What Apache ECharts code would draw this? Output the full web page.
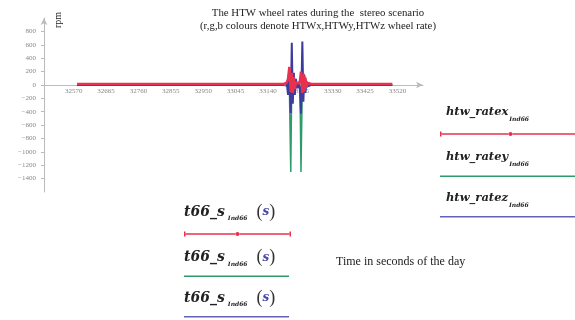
<!DOCTYPE html>
<html>
<head>
<meta charset="utf-8">
<script src="https://cdn.jsdelivr.net/npm/echarts@6/dist/echarts.min.js"></script>
<style>
  html, body { margin: 0; padding: 0; background: #fff; }
  #chart { width: 575px; height: 320px; }
</style>
</head>
<body>
<div id="chart"></div>
<script>
// seconds of the day
const times = [32580, 32700, 32850, 33000, 33100, 33185, 33195, 33199, 33203, 33207,
  33210, 33213, 33216, 33219, 33222, 33226, 33230, 33234, 33237, 33241,
  33244, 33247, 33250, 33253, 33257, 33262, 33268, 33300, 33400, 33505];
// wheel rates, rpm
const rateX = [12, 12, 12, 12, 12, 12, 30, 90, 270, -110, 180, -120, 120, -60, 40, 25,
  20, 60, 200, -120, 170, -100, 110, -40, 30, 15, 15, 15, 15, 15];
const rateY = [0, 0, 0, 0, 0, 0, -20, 30, -60, -1300, 40, -80, 50, -30, 20, 0,
  0, -30, -1300, 30, -60, 40, -20, 10, 0, 0, 0, 0, 0, 0];
const rateZ = [0, 0, 0, 0, 0, 0, 40, -150, 120, -420, 630, -280, 180, -150, 90, -50,
  30, -80, -430, 650, -250, 150, -120, 60, -20, 0, 0, 0, 0, 0];
const xTicks = [32570, 32665, 32760, 32855, 32950, 33045, 33140, 33235, 33330, 33425, 33520];
const yTicks = [800, 600, 400, 200, 0, -200, -400, -600, -800, -1000, -1200, -1400];
const seriesNames = ["htw_ratex", "htw_ratey", "htw_ratez"];

const RED = "#e8304f";
const GREEN = "#2f9a6a";
const BLUE = "#3c3c9e";
const serif = "Liberation Serif";
const legendFont = "DejaVu Serif";

const pairs = (vals) => times.map((t, i) => [t, vals[i]]);

const lineTok = (w, color) => ({ width: w, height: 1.5, fontSize: 1, backgroundColor: color });

const rightRich = {
  n: { fontFamily: legendFont, fontStyle: "italic", fontWeight: "bold", fontSize: 11.5, color: "#222", lineHeight: 36 },
  sub: { fontFamily: legendFont, fontStyle: "italic", fontWeight: "bold", fontSize: 6, color: "#222", padding: [14, 0, 0, 1] },
  pad: { width: 6, fontSize: 1 },
  cap: { width: 1.5, height: 5, fontSize: 1, backgroundColor: RED, lineHeight: 8 },
  dot: { width: 4, height: 4, fontSize: 1, borderRadius: 2, backgroundColor: RED },
  r1: lineTok(67, RED),
  r2: lineTok(75, RED),
  g: lineTok(145, GREEN),
  b: lineTok(145, "#6262b8"),
};

const bottomRich = {
  n: { fontFamily: legendFont, fontStyle: "italic", fontWeight: "bold", fontSize: 14, color: "#222", lineHeight: 36 },
  sub: { fontFamily: legendFont, fontStyle: "italic", fontWeight: "bold", fontSize: 6, color: "#222", padding: [13, 0, 0, 3] },
  gap: { width: 9, fontSize: 1 },
  par: { fontFamily: serif, fontSize: 18, color: "#333" },
  s: { fontFamily: legendFont, fontStyle: "italic", fontWeight: "bold", fontSize: 12, color: "#4a4aa8" },
  cap: { width: 1.5, height: 5, fontSize: 1, backgroundColor: RED, lineHeight: 8 },
  dot: { width: 4, height: 4, fontSize: 1, borderRadius: 2, backgroundColor: RED },
  r1: lineTok(50, RED),
  r2: lineTok(50, RED),
  g: lineTok(105, GREEN),
  b: lineTok(105, "#6262b8"),
};

const rightLine = { htw_ratex: "{cap| }{r1| }{dot| }{r2| }", htw_ratey: "{g| }", htw_ratez: "{b| }" };
const bottomLine = { htw_ratex: "{cap| }{r1| }{dot| }{r2| }{cap| }", htw_ratey: "{g| }", htw_ratez: "{b| }" };

const axisFont = { fontFamily: serif, fontSize: 7, color: "#888" };

const chart = echarts.init(document.getElementById("chart"));
chart.setOption({
  animation: false,
  title: [
    {
      text: "The HTW wheel rates during the  stereo scenario",
      subtext: "(r,g,b colours denote HTWx,HTWy,HTWz wheel rate)",
      left: 318,
      top: 8,
      padding: 0,
      itemGap: 2,
      textAlign: "center",
      textStyle: { fontFamily: serif, fontSize: 10.8, fontWeight: "normal", color: "#222" },
      subtextStyle: { fontFamily: serif, fontSize: 10.8, color: "#222" },
    },
    {
      text: "Time in seconds of the day",
      left: 336,
      top: 256,
      padding: 0,
      textStyle: { fontFamily: serif, fontSize: 12, fontWeight: "normal", color: "#222" },
    },
  ],
  graphic: [
    {
      type: "text",
      x: 58,
      y: 20,
      rotation: Math.PI / 2,
      style: { text: "rpm", font: "10px 'Liberation Serif'", fill: "#222", align: "center", verticalAlign: "middle" },
    },
  ],
  legend: [
    {
      data: seriesNames,
      orient: "vertical",
      left: 434,
      top: 106,
      padding: 0,
      itemGap: 15,
      itemWidth: 0,
      itemHeight: 0,
      selectedMode: false,
      formatter: (name) =>
        `{pad| }{n|${name}}{sub|Ind66}\n${rightLine[name]}`,
      textStyle: { rich: rightRich },
    },
    {
      data: seriesNames,
      orient: "vertical",
      left: 178,
      top: 203,
      padding: 0,
      itemGap: 12,
      itemWidth: 0,
      itemHeight: 0,
      selectedMode: false,
      formatter: (name) =>
        `{n|t66_s}{sub|Ind66}{gap| }{par|(}{s|s}{par|)}\n${bottomLine[name]}`,
      textStyle: { rich: bottomRich },
    },
  ],
  grid: { left: 44, right: 152, top: 18, bottom: 128 },
  xAxis: {
    type: "value",
    min: 32483,
    max: 33595,
    offset: -107,
    axisLine: { onZero: false, symbol: ["none", "arrow"], symbolSize: [5, 7], lineStyle: { color: "#bbb", width: 1 } },
    axisTick: { show: false },
    axisLabel: { ...axisFont, margin: 3, customValues: xTicks, formatter: (v) => String(v) },
    splitLine: { show: false },
  },
  yAxis: {
    type: "value",
    min: -1600,
    max: 1000,
    axisLine: { show: true, symbol: ["none", "arrow"], symbolSize: [5, 7], lineStyle: { color: "#bbb", width: 1 } },
    axisTick: { show: true, length: 3, customValues: yTicks, lineStyle: { color: "#bbb" } },
    axisLabel: {
      ...axisFont,
      margin: 8,
      customValues: yTicks,
      formatter: (v) => String(v).replace("-", "\u2212"),
    },
    splitLine: { show: false },
  },
  series: [
    { name: "htw_ratey", type: "line", data: pairs(rateY), symbol: "none", lineStyle: { color: GREEN, width: 1.5 }, itemStyle: { color: GREEN } },
    { name: "htw_ratez", type: "line", data: pairs(rateZ), symbol: "none", lineStyle: { color: BLUE, width: 2 }, itemStyle: { color: BLUE } },
    { name: "htw_ratex", type: "line", data: pairs(rateX), symbol: "none", lineStyle: { color: RED, width: 2.5 }, itemStyle: { color: RED } },
  ],
});
</script>
</body>
</html>
